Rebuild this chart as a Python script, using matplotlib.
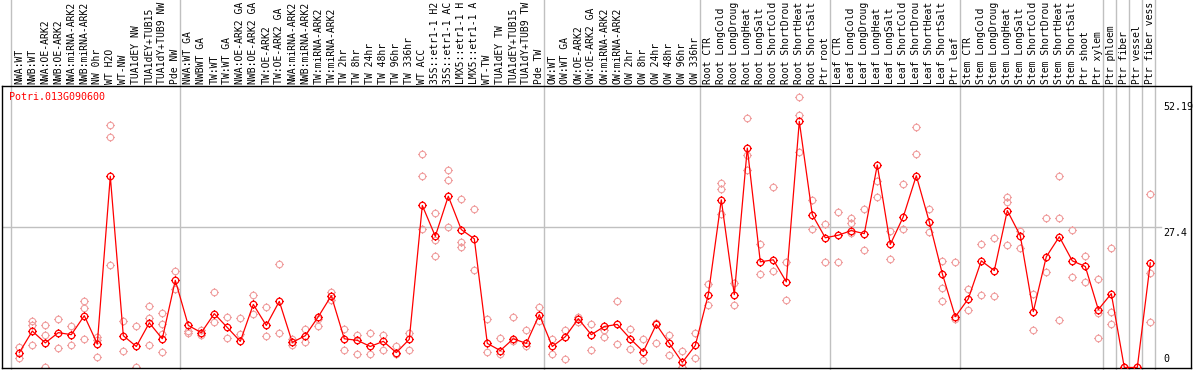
import matplotlib
matplotlib.use("Agg")
import matplotlib.pyplot as plt
from matplotlib.path import Path
from matplotlib.transforms import blended_transform_factory

labels = [
    "NWA:WT", "NWB:WT", "NWA:OE-ARK2", "NWB:OE-ARK2", "NWA:miRNA-ARK2", "NWB:miRNA-ARK2",
    "NW 0hr", "WT H2O", "WT-NW", "TUA1dEY NW", "TUA1dEY+TUB15", "TUA1dY+TUB9 NW", "Pde NW",
    "NWA:WT GA", "NWBWT GA", "TW:WT", "TW:WT GA", "NWA:OE-ARK2 GA", "NWB:OE-ARK2 GA",
    "TW:OE-ARK2", "TW:OE-ARK2 GA", "NWA:miRNA-ARK2", "NWB:miRNA-ARK2", "TW:miRNA-ARK2",
    "TW:miRNA-ARK2", "TW 2hr", "TW 8hr", "TW 24hr", "TW 48hr", "TW 96hr", "TW 336hr",
    "WT ACC", "35S::etr1-1 H2", "35S::etr1-1 AC", "LMX5::etr1-1 H", "LMX5::etr1-1 A",
    "WT-TW", "TUA1dEY TW", "TUA1dEY+TUB15", "TUA1dY+TUB9 TW", "Pde TW",
    "OW:WT", "OW:WT GA", "OW:OE-ARK2", "OW:OE-ARK2 GA", "OW:miRNA-ARK2", "OW:miRNA-ARK2",
    "OW 2hr", "OW 8hr", "OW 24hr", "OW 48hr", "OW 96hr", "OW 336hr",
    "Root CTR", "Root LongCold", "Root LongDroug", "Root LongHeat", "Root LongSalt",
    "Root ShortCold", "Root ShortDrou", "Root ShortHeat", "Root ShortSalt", "Ptr root",
    "Leaf CTR", "Leaf LongCold", "Leaf LongDroug", "Leaf LongHeat", "Leaf LongSalt",
    "Leaf ShortCold", "Leaf ShortDrou", "Leaf ShortHeat", "Leaf ShortSalt", "Ptr leaf",
    "Stem CTR", "Stem LongCold", "Stem LongDroug", "Stem LongHeat", "Stem LongSalt",
    "Stem ShortCold", "Stem ShortDrou", "Stem ShortHeat", "Stem ShortSalt", "Ptr shoot",
    "Ptr xylem", "Ptr phloem", "Ptr fiber", "Ptr vessel", "Ptr fiber vess",
]

means = [
    2.9, 7.1, 4.8, 6.8, 6.4, 10.1, 4.6, 37.3, 6.2, 4.1, 8.7, 5.6, 17.0,
    8.2, 6.8, 10.5, 7.8, 5.1, 12.3, 8.2, 12.9, 4.9, 6.2, 9.9, 14.0,
    5.6, 5.3, 4.1, 5.1, 2.9, 5.5, 31.6, 25.6, 33.4, 26.9, 25.1,
    4.7, 3.3, 5.6, 4.7, 10.3,
    4.1, 6.0, 9.5, 6.4, 8.0, 8.4, 5.6, 3.1, 8.4, 4.7, 1.0, 4.3,
    14.2, 32.7, 14.2, 42.8, 20.6, 21.0, 16.7, 48.0, 29.8, 25.3,
    25.8, 26.7, 26.1, 39.5, 24.0, 29.4, 37.4, 28.4, 18.3, 9.9,
    13.4, 20.8, 18.9, 30.6, 25.7, 10.9, 21.6, 25.5, 20.8, 19.7,
    11.3, 14.4, 0.0, 0.0, 20.4,
]

replicates = [
    [3.9, 1.9], [9.1, 8.2, 4.4], [8.3, 6.4, 0.0], [9.5, 3.8], [8.1, 4.3], [13.0, 11.6, 5.6],
    [6.0, 5.3, 2.1], [47.3, 44.9, 19.9], [9.1, 3.3], [8.0, 0.0], [12.0, 9.6, 4.3],
    [10.6, 8.4, 6.6, 3.1], [18.8, 15.3],
    [7.2, 6.8], [7.4, 6.4], [14.8, 8.8], [9.9, 5.8], [9.7, 6.6], [14.2, 10.5], [11.7, 6.2],
    [20.1, 6.8], [5.5, 4.3], [7.6, 4.9], [9.5, 8.0], [14.8, 13.1],
    [7.6, 3.5], [6.4, 2.7], [6.8, 2.7], [6.4, 3.5], [4.1, 2.7], [6.8, 3.5],
    [41.7, 37.3, 27.0], [30.2, 24.8, 21.8], [36.5, 27.4, 38.6], [32.9, 24.5, 23.5],
    [31.0, 19.1],
    [9.5, 3.1], [5.8, 2.7], [9.9, 5.1], [7.4, 4.1], [11.7, 9.1],
    [5.5, 2.7], [7.4, 1.7], [9.9, 8.9], [8.4, 3.5], [7.4, 6.0], [13.0, 4.5], [7.6, 3.7],
    [5.6, 1.4], [8.6, 4.7], [6.4, 2.5], [3.3, 0.0], [6.8, 1.9],
    [16.2, 12.1], [34.9, 30.0, 35.9], [16.4, 12.1], [48.6, 41.5, 38.6], [24.1, 18.3],
    [35.2, 18.9], [20.6, 13.1], [52.7, 49.3, 42.1], [32.7, 27.1], [27.9, 20.6],
    [30.4, 20.6], [29.1, 28.2, 26.3], [31.0, 23.0], [36.4, 33.2], [26.7, 21.2],
    [35.8, 27.0], [46.9, 41.7], [31.0, 26.5], [20.8, 15.6, 13.0], [20.6, 9.5],
    [15.4, 11.3], [24.1, 14.2], [25.3, 14.0], [33.2, 32.2, 23.8], [23.4, 26.6],
    [14.4, 7.4], [29.1, 18.7], [37.4, 29.1, 9.3], [26.9, 17.7], [21.8, 16.7],
    [17.3, 10.7, 5.8], [23.4, 10.8, 8.5], [0.0], [0.0], [33.9, 18.5, 8.9],
]

group_starts = [0, 13, 41, 53, 63, 73, 84, 85, 86, 87]
gene_name = "Potri.013G090600"
ytick_values = [52.19, 27.4, 0]
ytick_labels = ["52.19", "27.4", "0"]

W, H = 1194, 370
fig = plt.figure(figsize=(W / 100, H / 100), dpi=100)
ax = fig.add_axes([2 / W, 2 / H, (1191 - 2) / W, (368 - 86) / H])

x_first, step = 19.3, 13.0
ax.set_xlim((2 - x_first) / step, (1191 - x_first) / step)
ax.set_ylim(-0.1, 54.9)
ax.set_xticks([])
ax.set_yticks([])
for s in ax.spines.values():
    s.set_color("black")
    s.set_linewidth(1.0)

# custom marker: circle with four small ticks
circle = Path.unit_circle()
ticks = Path([[0, 1], [0, 1.35], [0, -1], [0, -1.35], [1, 0], [1.35, 0], [-1, 0], [-1.35, 0]],
             [Path.MOVETO, Path.LINETO] * 4)
mk = Path.make_compound_path(circle, ticks)

xs = list(range(len(means)))

# separators
blend = blended_transform_factory(ax.transData, fig.transFigure)
sep_x = [g - 0.615 for g in group_starts] + [len(means) - 1 + 0.385]
for sx in sep_x:
    ax.plot([sx, sx], [0, 1], transform=blend, color="#c0c0c0", lw=1.0,
            clip_on=False, zorder=0.5)

# gridline at 27.4
ax.plot([ax.get_xlim()[0], (1161 - x_first) / step], [27.4, 27.4], color="#c0c0c0",
        lw=1.0, zorder=0.5)

# replicates
for i, reps in enumerate(replicates):
    ax.plot([i] * len(reps), reps, linestyle="none", marker=mk, markersize=6.3,
            markerfacecolor="none", markeredgecolor="#f0a0a0", markeredgewidth=0.8,
            clip_on=True, zorder=2)

# mean line
ax.plot(xs, means, color="#ff0000", lw=0.9, marker=mk, markersize=6.3,
        markerfacecolor="none", markeredgecolor="#ff0000", markeredgewidth=0.9,
        zorder=3)

# column labels
for i, lab in enumerate(labels):
    ax.text(i, (H - 84) / H, lab, transform=blend, rotation=90, ha="center",
            va="bottom", fontsize=7.0, family="DejaVu Sans Mono", color="black",
            clip_on=False)

# y labels
xl = (1163 - x_first) / step
ax.text(xl, ytick_values[0] - 0.4, ytick_labels[0], ha="left", va="top", fontsize=7.2,
        family="DejaVu Sans Mono")
ax.text(xl, ytick_values[1] - 0.2, ytick_labels[1], ha="left", va="top", fontsize=7.2,
        family="DejaVu Sans Mono")
ax.text(xl, ytick_values[2] + 0.6, ytick_labels[2], ha="left", va="bottom", fontsize=7.2,
        family="DejaVu Sans Mono")

fig.text(9 / W, (H - 97) / H, gene_name, color="#ff0000", ha="left", va="center",
         fontsize=7.2, family="DejaVu Sans Mono")

fig.savefig("out.png", dpi=100)
